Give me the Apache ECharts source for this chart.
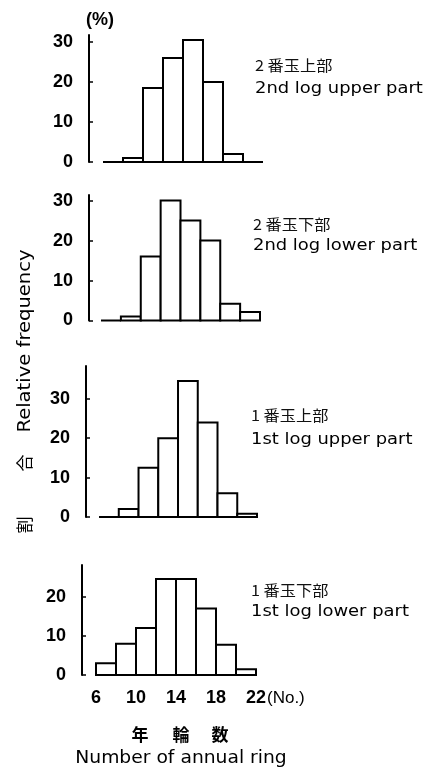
<!DOCTYPE html>
<html>
<head>
<meta charset="utf-8">
<style>
  html, body { margin: 0; padding: 0; background: #fff; }
  #chart { width: 430px; height: 767px; }
</style>
<script src="https://cdn.jsdelivr.net/npm/echarts@6/dist/echarts.min.js"></script>
</head>
<body>
<div id="chart"></div>
<script>
// ---- data ----
const binEdges = [6, 8, 10, 12, 14, 16, 18, 20, 22];
const log2Upper = [0, 1, 18.5, 26, 30.5, 20, 2, 0];
const log2Lower = [0, 1, 16, 30, 25, 20, 4.2, 2.1];
const log1Upper = [0, 2, 12.5, 20, 34.5, 24, 6, 0.8];
const log1Lower = [3, 8, 12, 24.5, 24.5, 17, 7.7, 1.5];
const yTicksA = [0, 10, 20, 30];
const yTicksB = [0, 10, 20];
const xTickLabels = [6, 10, 14, 18, 22];
const panelNamesJa = ['2 番玉上部', '2 番玉下部', '1 番玉上部', '1 番玉下部'];
const panelNamesEn = ['2nd log upper part', '2nd log lower part', '1st log upper part', '1st log lower part'];

// ---- layout (pixels) ----
const panels = [
  { vals: log2Upper, left: 89, top: 35,  width: 174, height: 127,   xmin: 4.6,  ymax: 31.75, yt: yTicksA, tx: 255, tyJa: 65,  tyEn: 89 },
  { vals: log2Lower, left: 89, top: 195, width: 171, height: 125.5, xmin: 4.79, ymax: 31.4,  yt: yTicksA, tx: 253, tyJa: 224, tyEn: 246 },
  { vals: log1Upper, left: 86, top: 366, width: 171, height: 151,   xmin: 4.68, ymax: 38.3,  yt: yTicksA, tx: 251, tyJa: 415, tyEn: 440 },
  { vals: log1Lower, left: 82, top: 565, width: 174, height: 110,   xmin: 4.6,  ymax: 28.1,  yt: yTicksB, tx: 251, tyJa: 590, tyEn: 612 }
];

function renderBin(params, api) {
  const x0 = api.value(0), x1 = api.value(1), v = api.value(2);
  const p0 = api.coord([x0, v]);
  const p1 = api.coord([x1, 0]);
  if (v === 0) {
    return { type: 'line', shape: { x1: p0[0], y1: p1[1], x2: p1[0], y2: p1[1] },
             style: { stroke: '#000', lineWidth: 2 } };
  }
  return { type: 'rect',
           shape: { x: p0[0], y: p0[1], width: p1[0] - p0[0], height: p1[1] - p0[1] },
           style: { fill: '#fff', stroke: '#000', lineWidth: 2 } };
}

const grids = [], xAxes = [], yAxes = [], series = [], graphics = [];
const numFont = { fontFamily: 'Liberation Sans', fontWeight: 'bold', fontSize: 18, color: '#000' };

panels.forEach((p, i) => {
  grids.push({ left: p.left, top: p.top, width: p.width, height: p.height, containLabel: false, outerBoundsMode: 'none' });
  const isLast = i === panels.length - 1;
  xAxes.push({
    type: 'value', gridIndex: i, min: p.xmin, max: 22,
    axisLine: { show: false }, axisTick: { show: false }, splitLine: { show: false },
    axisLabel: Object.assign({ show: isLast, customValues: xTickLabels, margin: 14 }, numFont)
  });
  yAxes.push({
    type: 'value', gridIndex: i, min: 0, max: p.ymax,
    axisLine: { show: true, onZero: false, lineStyle: { color: '#000', width: 2 } },
    axisTick: { show: true, inside: true, length: 4, customValues: p.yt, lineStyle: { color: '#000', width: 1.5 } },
    splitLine: { show: false },
    axisLabel: Object.assign({ customValues: p.yt, margin: 16 }, numFont)
  });
  const data = p.vals.map((v, k) => [binEdges[k], binEdges[k + 1], v]);
  series.push({
    type: 'custom', xAxisIndex: i, yAxisIndex: i, renderItem: renderBin,
    encode: { x: [0, 1], y: 2 }, data: data, silent: true, clip: false
  });
  graphics.push({
    type: 'text', x: p.tx, y: p.tyJa, scaleX: 1.08,
    style: { text: panelNamesJa[i], font: '15px "Noto Sans CJK JP"', fill: '#111', align: 'left', verticalAlign: 'middle' }
  });
  graphics.push({
    type: 'text', x: p.tx, y: p.tyEn, scaleX: 1.12,
    style: { text: panelNamesEn[i], font: '16px "DejaVu Sans"', fill: '#000', verticalAlign: 'middle', align: 'left' }
  });
});

// other labels
graphics.push(
  { type: 'text', x: 100, y: 20, style: { text: '(%)', font: 'bold 18px "Liberation Sans"', fill: '#000', align: 'center', verticalAlign: 'middle' } },
  { type: 'text', x: 26, y: 341, rotation: Math.PI / 2, scaleX: 1.15,
    style: { text: 'Relative frequency', font: '17px "DejaVu Sans"', fill: '#000', align: 'center', verticalAlign: 'middle' } },
  { type: 'text', x: 25, y: 463, rotation: Math.PI / 2,
    style: { text: '合', font: '17px "Noto Sans CJK JP"', fill: '#000', align: 'center', verticalAlign: 'middle' } },
  { type: 'text', x: 25, y: 525, rotation: Math.PI / 2,
    style: { text: '割', font: '17px "Noto Sans CJK JP"', fill: '#000', align: 'center', verticalAlign: 'middle' } },
  { type: 'text', x: 267, y: 698,
    style: { text: '(No.)', font: '17px "Liberation Sans"', fill: '#000', align: 'left', verticalAlign: 'middle' } },
  { type: 'text', x: 140, y: 735,
    style: { text: '年', font: 'bold 17px "Noto Sans CJK JP"', fill: '#000', align: 'center', verticalAlign: 'middle' } },
  { type: 'text', x: 181, y: 735,
    style: { text: '輪', font: 'bold 17px "Noto Sans CJK JP"', fill: '#000', align: 'center', verticalAlign: 'middle' } },
  { type: 'text', x: 220, y: 735,
    style: { text: '数', font: 'bold 17px "Noto Sans CJK JP"', fill: '#000', align: 'center', verticalAlign: 'middle' } },
  { type: 'text', x: 181, y: 758, scaleX: 1.04,
    style: { text: 'Number of annual ring', font: '18px "DejaVu Sans"', fill: '#000', align: 'center', verticalAlign: 'middle' } }
);

const chart = echarts.init(document.getElementById('chart'), null, { renderer: 'canvas' });
chart.setOption({
  animation: false,
  backgroundColor: '#fff',
  grid: grids,
  xAxis: xAxes,
  yAxis: yAxes,
  series: series,
  graphic: graphics
});
</script>
</body>
</html>
